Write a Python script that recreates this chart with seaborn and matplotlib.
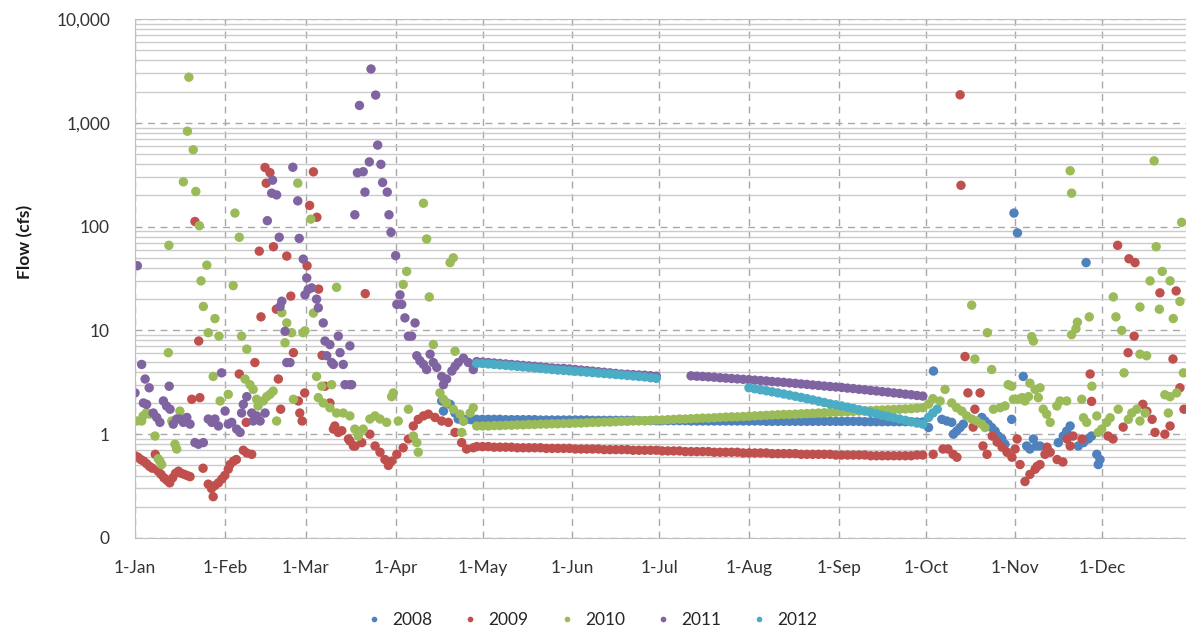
import numpy as np
import pandas as pd
import matplotlib
matplotlib.use("Agg")
import matplotlib.pyplot as plt
import seaborn as sns
from matplotlib.ticker import FixedLocator, FixedFormatter, LogLocator, NullFormatter

years = ["2008", "2009", "2010", "2011", "2012"]
colors = ["#4F81BD", "#C0504D", "#9BBB59", "#8064A2", "#4BACC6"]

month_days = [0, 31, 59, 90, 120, 151, 181, 212, 243, 273, 304, 334]
month_labels = ["1-Jan", "1-Feb", "1-Mar", "1-Apr", "1-May", "1-Jun",
                "1-Jul", "1-Aug", "1-Sep", "1-Oct", "1-Nov", "1-Dec"]
y_ticks = [0.1, 1, 10, 100, 1000, 10000]
y_labels = ["0", "1", "10", "100", "1,000", "10,000"]

# scattered daily readings: day of year and flow (cfs)
days_2008 = [105.9, 106.5, 107.6, 108.8, 110.5, 111.6, 113.4,
             274, 275.7, 278.6, 280.3, 282, 282.6, 283.7, 284.9, 286, 292.4, 293.5,
             294.6, 295.8, 297, 298.1, 299.3, 300.4, 302.7, 303.5, 304.7, 306.7, 307.9,
             309, 310.2, 311.3, 312.5, 318.8, 320.5, 321.7, 322.9, 325.7, 327.5, 328.4,
             329.2, 330.3, 332.1, 333.2, 332.6]
flow_2008 = [2.09, 1.67, 2.0, 1.94, 1.6, 1.4, 1.34,
             1.16, 4.06, 1.39, 1.34, 1.3, 1.0, 1.07, 1.16, 1.25, 1.45, 1.34,
             1.25, 1.16, 1.07, 0.96, 0.9, 0.8, 1.39, 135, 87, 3.6, 0.77,
             0.72, 0.9, 0.77, 0.77, 0.83, 0.96, 1.07, 1.2, 0.77, 0.83, 45,
             0.9, 0.96, 0.64, 0.57, 0.51]

days_2009 = [0, 1, 2, 3, 4, 5, 6, 7, 8, 9, 10, 11, 12, 13, 14, 15, 16, 17, 18, 19,
             19.6, 20.7, 22, 22.4, 23.5, 25.3, 26.4, 27, 27.6, 28.8, 30, 31, 32.2, 32.8,
             34, 35, 36, 37.4, 38.4, 38.6, 40.3, 41.4, 42.9, 43.5, 44.9, 45.3, 46.6,
             47.8, 48.8, 49.5, 50.3, 52.4, 53.8, 54.7, 56.4, 56.9, 57.7, 58.6, 59.4,
             60.3, 61.6, 62.8, 63.4, 64.6, 65.6, 67.3, 68.5, 69, 70.2, 71.4, 73.7, 74.2,
             75.4, 76, 78.3, 79.5, 81.1, 82.9, 84.6, 86.3, 87.5, 88.6, 90.4, 92.6, 94.4,
             96.1, 97.8, 99.6, 101.3, 103.6, 105.9, 108.2, 110.5, 112.8, 114.5, 116.8,
             275.6, 279, 280.7, 282.5, 283.8, 284.9, 285.2, 286.6, 287.6, 289.4, 290,
             291.8, 292.8, 294.2, 296, 297.7, 299.4, 301.1, 302.8, 303.9, 304.6, 305.6,
             307.3, 309, 310.8, 311.5, 312.5, 314.2, 314.9, 316, 318.4, 320.4, 321.8,
             322.9, 323.9, 327, 329.8, 330.3, 336, 337.7, 339.3, 341.2, 342.9, 343.2,
             345, 345.3, 348, 349.4, 351.2, 352.2, 353.9, 355.6, 357.4, 358.4, 359.5,
             360.8, 362.2]
flow_2009 = [0.62, 0.60, 0.57, 0.55, 0.52, 0.49, 0.47, 0.64, 0.44, 0.41, 0.38, 0.36,
             0.34, 0.38, 0.42, 0.44, 0.42, 0.41, 0.40, 0.39,
             2.17, 112, 7.9, 2.25, 0.47, 0.33, 0.30, 0.25, 0.32, 0.34, 0.37, 0.40, 0.46,
             0.51, 0.55, 0.57, 3.8, 0.70, 1.3, 0.66, 0.64, 4.9, 58, 13.5, 371, 262, 331,
             64, 16, 3.4, 1.74, 52, 21.4, 6.1, 2.09, 1.6, 1.34, 2.5, 42,
             160, 337, 123, 25, 5.75, 2.9, 2.0, 1.12, 1.2, 1.04, 1.08, 0.9, 0.86,
             0.77, 0.77, 0.83, 22.6, 1.0, 0.77, 0.67, 0.57, 0.50, 0.55, 0.64, 0.74, 0.9,
             1.2, 1.39, 1.5, 1.56, 1.45, 1.34, 1.3, 1.04, 0.83, 0.72, 0.74,
             0.64, 0.72, 0.72, 0.64, 0.60, 1860, 250, 5.6, 2.5, 1.17, 1.74,
             2.5, 0.77, 0.64, 0.96, 0.84, 0.75, 0.67, 0.60, 0.72, 0.9, 0.51,
             0.35, 0.41, 0.46, 0.49, 0.51, 0.64, 0.75, 0.67, 0.57, 0.54, 0.9,
             0.77, 0.96, 0.9, 3.8, 2.07, 0.96, 0.9, 66, 1.17, 6.1, 49,
             8.8, 45, 1.94, 1.66, 1.39, 1.04, 23, 1.0, 1.2, 5.3, 24,
             2.8, 1.74]

days_2010 = [0.6, 2.3, 2.8, 4, 5.2, 6.9, 8, 8.6, 9.2, 11.5, 11.7, 12.7, 13.8, 14.4,
             15.5, 16.7, 18.1, 18.6, 20.1, 21, 22.2, 22.8, 23.6, 24.8, 25.3, 27, 27.6,
             29, 29.4, 32.2, 33.9, 34.5, 36, 36.8, 38.6, 38, 39.7, 40.8, 42, 42.5, 44.3,
             45.5, 46.6, 47.7, 48.9, 50.7, 51.8, 52.4, 54.1, 54.7, 56.2, 58, 58.7, 60.7,
             61.6, 62.7, 63.3, 64.5, 65, 67.3, 67.9, 69.6, 69.6, 71.9, 74.2, 75.9, 77.1,
             78.8, 81.1, 82.9, 84.6, 86.9, 88.6, 89.2, 90.9, 92.6, 93.8, 94.4, 96.1,
             97.3, 97.8, 99.6, 100.7, 101.6, 103, 105.3, 106.5, 107.6, 108.8, 109.9,
             109.9, 110.5, 112.2, 112.8, 113.4, 115.7, 116.8, 118,
             274, 275.5, 278, 279.7, 282, 283.7, 285.5, 287.2, 288.9, 290.6, 292.4,
             293.5, 288.9, 290, 294.3, 295.8, 296.4, 298.7, 300.4, 301.5, 302.7, 303.3,
             304.9, 306.3, 307.3, 308.5, 309, 309.6, 310.2, 310.8, 311.9, 312.5, 313.6,
             314.8, 316, 318.3, 319.4, 321.7, 322.9, 323.4, 323.4, 324.9, 325.4, 326.9,
             327.5, 328.6, 329.5, 330.4, 332.1, 332.6, 333.8, 335.5, 336.7, 337.8,
             338.7, 339.5, 340.7, 341.5, 343, 344.2, 345.9, 347, 347, 347, 348.8, 349.3,
             350.5, 351.9, 352.6, 353.7, 354.7, 355.6, 356.8, 357.4, 357.4, 358.5,
             359.7, 360.8, 361.4, 362]
flow_2010 = [1.34, 1.34, 1.5, 1.62, 1.56, 0.96, 0.58, 0.55, 0.51, 6.1, 66, 1.34, 0.8,
             0.72, 1.67, 270, 830, 2750, 550, 218, 102, 30, 17, 42.5, 9.5, 3.6, 13,
             8.8, 2.09, 2.42, 27, 135, 79, 8.8, 6.6, 3.4, 3.0, 2.7, 2.17, 1.87, 2.09,
             2.3, 2.42, 2.6, 1.34, 14.8, 7.6, 11.8, 9.5, 2.17, 262, 9.5, 9.9, 118,
             14.7, 3.6, 2.25, 2.9, 2.0, 1.8, 3.0, 1.6, 26, 1.6, 1.5, 1.12, 0.96,
             1.12, 1.4, 1.5, 1.4, 1.3, 2.3, 2.5, 1.34, 27.7, 37, 1.74, 0.96,
             0.83, 0.67, 168, 76, 21, 7.3, 2.5, 2.17, 2.0, 45, 50,
             1.74, 6.3, 1.56, 1.04, 1.34, 1.6, 1.8, 1.2,
             1.95, 2.2, 2.09, 2.7, 2.0, 1.8, 1.67, 1.5, 1.4, 1.34, 1.25,
             1.16, 17.5, 5.3, 9.5, 4.2, 1.74, 1.8, 1.87, 3.0, 2.9, 2.17,
             2.17, 2.25, 2.09, 2.3, 3.1, 8.7, 7.9, 2.7, 2.25, 2.8, 1.74,
             1.56, 1.3, 1.87, 2.09, 2.09, 345, 210, 9.1, 10.4, 12, 2.17,
             1.44, 1.3, 13.5, 2.9, 1.5, 1.04, 1.12, 1.3, 1.44, 21,
             13.5, 1.74, 10, 3.9, 1.39, 1.6, 1.74, 16.8, 1.34, 5.9, 1.6, 5.7,
             30, 430, 64, 16, 37, 2.4, 1.6, 30, 2.3, 13,
             2.5, 19, 110, 3.9]

days_2011 = [0, 0.8, 2.3, 2.9, 3.5, 4, 4.9, 6.3, 7.5, 8.6, 9.8, 10.9, 11.8, 12.1, 13.2,
             14.4, 15.5, 16.7, 17.9, 19, 20.7, 21.9, 23.6, 25.3, 26.5, 27.6, 28.8, 29.9,
             31.1, 32.2, 33.4, 35.1, 36.3, 36.8, 37.4, 38.6, 40.3, 40.8, 42, 43.2, 44.9,
             45.7, 47.5, 47.2, 48.9, 49.8, 50.1, 50.7, 51.8, 52.4, 53.5, 54.5, 56.2,
             56.7, 58.1, 58.7, 59.3, 59.8, 61, 62.7, 63.3, 65, 65.6, 66.2, 67.3, 67.9,
             68.5, 70.2, 70.8, 71.9, 72.5, 74.2, 74.2, 74.8, 75.9, 76.8, 77.5, 78.8,
             79.4, 80.9, 81.5, 83.1, 83.8, 84.9, 85.5, 87.1, 87.7, 88.4, 90, 90.4, 91.5,
             92.1, 93.2, 94.4, 95.5, 96.7, 97.3, 98.4, 99.6, 100.7, 101.9, 103, 104.2,
             105.9, 106.5, 107.6, 109.4, 110.5, 111.6, 113.4, 115.1, 116.8]
flow_2011 = [2.5, 42, 4.7, 2.0, 3.4, 1.94, 2.8, 1.6, 1.45, 1.3, 2.09, 1.87, 2.9, 1.74,
             1.25, 1.4, 1.4, 1.3, 1.45, 1.25, 0.83, 0.80, 0.83, 1.4, 1.3, 1.4, 1.2, 3.9,
             1.67, 1.25, 1.3, 1.12, 1.04, 1.6, 1.94, 2.3, 1.6, 1.34, 1.5, 1.34, 1.6,
             114, 280, 210, 202, 79, 17, 19.1, 9.8, 4.9, 4.9, 373, 177,
             77, 48.6, 22, 32, 24.8, 25.7, 20, 16.5, 11.8, 7.9, 5.7, 7.3, 4.9,
             4.7, 8.8, 6.1, 4.7, 3.0, 3.0, 7.1, 3.0, 130, 330, 1470, 338,
             215, 420, 3300, 1850, 610, 398, 266, 215, 130, 88, 52.5, 17.8, 22,
             17.8, 13.2, 8.8, 8.8, 11.8, 5.7, 5.1, 4.7, 4.2, 5.9, 4.9, 4.4,
             3.6, 3.0, 3.4, 4.06, 4.5, 4.9, 5.4, 4.9, 4.2]

days_2012 = [274, 275.5, 277]
flow_2012 = [1.45, 1.6, 1.74]

# long steady runs of readings every second day: (first day, values)
runs_2008 = [(114, [1.38, 1.38, 1.39, 1.39, 1.39, 1.39, 1.39, 1.38, 1.38, 1.38, 1.38, 1.38,
                    1.38, 1.37, 1.37, 1.37, 1.37, 1.37, 1.37,
                    1.37, 1.37, 1.37, 1.36, 1.36, 1.36, 1.36, 1.36, 1.36, 1.36, 1.36,
                    1.35, 1.35, 1.35, 1.35,
                    1.35, 1.35, 1.35, 1.35, 1.35, 1.34, 1.34, 1.34, 1.34, 1.34, 1.34,
                    1.34, 1.34, 1.34, 1.34, 1.34,
                    1.34, 1.34, 1.33, 1.33, 1.33, 1.33, 1.33, 1.33, 1.33, 1.33, 1.33,
                    1.33, 1.33, 1.33, 1.33,
                    1.33, 1.33, 1.33, 1.33, 1.32, 1.32, 1.32, 1.32, 1.32, 1.32, 1.32,
                    1.32, 1.32, 1.31, 1.31])]
runs_2009 = [(118, [0.76, 0.76, 0.76, 0.75, 0.75, 0.75, 0.75, 0.74, 0.74, 0.74, 0.74, 0.74,
                    0.73, 0.73, 0.73, 0.73, 0.73,
                    0.72, 0.72, 0.72, 0.72, 0.72, 0.71, 0.71, 0.71, 0.71, 0.71, 0.70,
                    0.70, 0.70, 0.70, 0.70,
                    0.69, 0.69, 0.69, 0.69, 0.68, 0.68, 0.68, 0.68, 0.68, 0.67, 0.67,
                    0.67, 0.67, 0.67, 0.66, 0.66,
                    0.66, 0.66, 0.66, 0.65, 0.65, 0.65, 0.65, 0.65, 0.64, 0.64, 0.64,
                    0.64, 0.64, 0.64, 0.63,
                    0.63, 0.63, 0.63, 0.63, 0.63, 0.62, 0.62, 0.62, 0.62, 0.62, 0.62,
                    0.62, 0.62, 0.63, 0.63])]
runs_2010 = [(120, [1.20, 1.20, 1.21, 1.21, 1.22, 1.22, 1.23, 1.23, 1.24, 1.24, 1.25, 1.25,
                    1.26, 1.26, 1.27, 1.27,
                    1.28, 1.28, 1.29, 1.30, 1.30, 1.31, 1.31, 1.32, 1.33, 1.33, 1.34,
                    1.35, 1.35, 1.36, 1.37,
                    1.37, 1.38, 1.39, 1.40, 1.40, 1.41, 1.42, 1.43, 1.43, 1.44, 1.45,
                    1.46, 1.47, 1.47, 1.48, 1.49,
                    1.50, 1.51, 1.52, 1.53, 1.54, 1.55, 1.55, 1.56, 1.57, 1.58, 1.59,
                    1.60, 1.61, 1.62, 1.63,
                    1.64, 1.65, 1.66, 1.67, 1.68, 1.69, 1.70, 1.71, 1.72, 1.73, 1.74,
                    1.75, 1.76, 1.78, 1.80])]
runs_2011 = [(118, [5.0, 4.95, 4.9, 4.85, 4.8, 4.75, 4.7, 4.65, 4.6, 4.55, 4.5, 4.45,
                    4.4, 4.35, 4.3, 4.3,
                    4.25, 4.2, 4.15, 4.1, 4.05, 4.0, 3.95, 3.9, 3.85, 3.8, 3.78, 3.75,
                    3.72, 3.7, 3.66, 3.62]),
             (192, [3.65, 3.62, 3.6, 3.57, 3.54, 3.5, 3.47, 3.44, 3.41, 3.38, 3.35,
                    3.32, 3.29, 3.26, 3.22, 3.19, 3.16, 3.12, 3.09, 3.05, 3.02, 2.98,
                    2.95, 2.91, 2.88, 2.85,
                    2.82, 2.78, 2.75, 2.71, 2.68, 2.64, 2.61, 2.57, 2.54, 2.5, 2.47,
                    2.43, 2.40, 2.36, 2.33])]
runs_2012 = [(118, [4.8, 4.8, 4.75, 4.7, 4.65, 4.6, 4.55, 4.5, 4.45, 4.4, 4.35, 4.3,
                    4.25, 4.2, 4.15, 4.12,
                    4.08, 4.04, 4.0, 3.96, 3.92, 3.88, 3.84, 3.8, 3.76, 3.72, 3.68, 3.64,
                    3.6, 3.56, 3.5, 3.45]),
             (212, [2.8, 2.74, 2.68, 2.62, 2.56, 2.5, 2.44, 2.38, 2.32, 2.26, 2.2, 2.14,
                    2.08, 2.02, 1.96, 1.92,
                    1.87, 1.82, 1.77, 1.72, 1.67, 1.62, 1.57, 1.52, 1.48, 1.44, 1.40,
                    1.36, 1.32, 1.28, 1.25])]

points = {"2008": (days_2008, flow_2008, runs_2008),
          "2009": (days_2009, flow_2009, runs_2009),
          "2010": (days_2010, flow_2010, runs_2010),
          "2011": (days_2011, flow_2011, runs_2011),
          "2012": (days_2012, flow_2012, runs_2012)}

frames = []
for yr in years:
    d, f, runs = points[yr]
    frames.append(pd.DataFrame({"day": d, "flow": f, "year": yr}))
    for start, vals in runs:
        frames.append(pd.DataFrame({"day": start + 2 * np.arange(len(vals)),
                                    "flow": vals, "year": yr}))
df = pd.concat(frames, ignore_index=True)

sns.set_style("white")
plt.rcParams["font.family"] = ["Lato", "DejaVu Sans"]

fig = plt.figure(figsize=(11.86, 6.34), dpi=100)
ax = fig.add_axes([135 / 1186, 96 / 634, 1051 / 1186, 519 / 634])
ax.set_axisbelow(True)

sns.scatterplot(data=df, x="day", y="flow", hue="year", hue_order=years,
                palette=colors, s=46, linewidth=0, ax=ax)

ax.set_yscale("log")
ax.set_ylim(0.1, 10000)
ax.set_xlim(0, 362.9)

ax.yaxis.set_major_locator(FixedLocator(y_ticks))
ax.yaxis.set_major_formatter(FixedFormatter(y_labels))
ax.yaxis.set_minor_locator(LogLocator(base=10, subs=range(2, 10)))
ax.yaxis.set_minor_formatter(NullFormatter())
ax.xaxis.set_major_locator(FixedLocator(month_days))
ax.xaxis.set_major_formatter(FixedFormatter(month_labels))

ax.grid(which="minor", axis="y", color="#CBCBCB", lw=1, ls="-")
ax.grid(which="major", axis="y", color="#A8A8A8", lw=1, ls=(0, (5, 4)))
ax.grid(which="major", axis="x", color="#A8A8A8", lw=1, ls=(0, (5, 4)))

ax.tick_params(axis="both", which="both", length=0, labelsize=12.5, labelcolor="#333333")
ax.tick_params(axis="y", pad=18)
ax.tick_params(axis="x", pad=16)

for side in ["left", "bottom", "top"]:
    ax.spines[side].set_color("#BFBFBF")
ax.spines["right"].set_visible(False)

ax.set_xlabel("")
ax.set_ylabel("Flow (cfs)", fontsize=12.5, fontweight="bold", color="#1a1a1a")
ax.yaxis.set_label_coords(-0.097, 0.57)

sns.move_legend(ax, "center", bbox_to_anchor=(0.43, -0.158), ncol=5, frameon=False,
                title=None, fontsize=12.5, markerscale=0.6, handletextpad=0.05,
                columnspacing=1.2)

fig.savefig("out.png", dpi=100)
